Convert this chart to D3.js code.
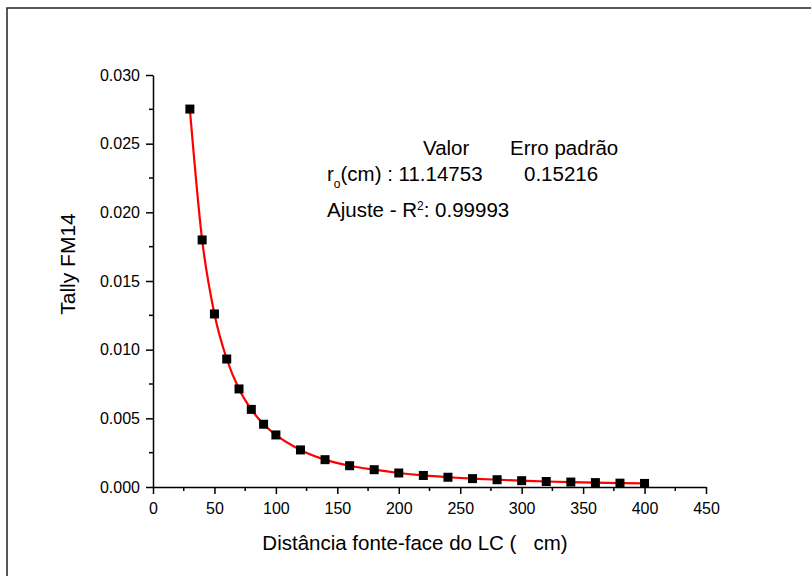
<!DOCTYPE html>
<html>
<head>
<meta charset="utf-8">
<script src="https://cdn.jsdelivr.net/npm/d3@7"></script>
<style>
  html, body { margin: 0; padding: 0; background: #fff; }
  svg { display: block; font-family: "Liberation Sans", Arial, sans-serif; }
</style>
</head>
<body>
<svg id="chart" width="811" height="576"></svg>
<script>
// Distance from source to detector face (cm)
const distances = [30, 40, 50, 60, 70, 80, 90, 100, 120, 140, 160, 180, 200,
                   220, 240, 260, 280, 300, 320, 340, 360, 380, 400];
// Tally FM14 values
const tally = [0.02752, 0.01799, 0.0126, 0.00932, 0.00714, 0.00565, 0.00457, 0.00379,
               0.00270, 0.00199, 0.00155, 0.00126, 0.00102, 0.00084, 0.00071,
               0.00061, 0.00053, 0.00046, 0.00040, 0.00036, 0.00032, 0.00028, 0.00026];
const xTicks = [0, 50, 100, 150, 200, 250, 300, 350, 400, 450];
const yTicks = [0, 0.005, 0.010, 0.015, 0.020, 0.025, 0.030];
const fitValue = "11.14753";
const fitError = "0.15216";
const rSquared = "0.99993";

const svg = d3.select("#chart");

// outer frame (top and left edges)
svg.append("path")
  .attr("d", "M7,576 L7,8 L811,8")
  .attr("fill", "none").attr("stroke", "#222").attr("stroke-width", 1.5);

const x = d3.scaleLinear().domain([0, 450]).range([153, 706]);
const y = d3.scaleLinear().domain([0, 0.030]).range([487, 75]);

// x axis: labelled major ticks + minor ticks in between
const xAxis = svg.append("g").attr("transform", "translate(0,487)");
xAxis.call(d3.axisBottom(x).tickValues(xTicks).tickSize(7).tickSizeOuter(0)
  .tickFormat(d3.format("d")));
xAxis.append("g").selectAll("line")
  .data(d3.range(25, 450, 50)).join("line")
  .attr("x1", d => x(d)).attr("x2", d => x(d))
  .attr("y1", 0).attr("y2", 4).attr("stroke", "#000").attr("stroke-width", 1.5);

const yAxis = svg.append("g").attr("transform", "translate(153,0)");
yAxis.call(d3.axisLeft(y).tickValues(yTicks).tickSize(7).tickSizeOuter(0)
  .tickFormat(d3.format(".3f")));
yAxis.append("g").selectAll("line")
  .data(d3.range(0.0025, 0.030, 0.005)).join("line")
  .attr("y1", d => y(d)).attr("y2", d => y(d))
  .attr("x1", 0).attr("x2", -4).attr("stroke", "#000").attr("stroke-width", 1.5);

[xAxis, yAxis].forEach(g => {
  g.select(".domain").attr("stroke", "#000").attr("stroke-width", 1.5);
  g.selectAll(".tick line").attr("stroke", "#000").attr("stroke-width", 1.5);
  g.selectAll(".tick text").attr("fill", "#000")
    .style("font-family", "Liberation Sans, Arial, sans-serif").style("font-size", "16px");
});
xAxis.selectAll(".tick text").attr("dy", null).attr("y", 27);
yAxis.selectAll(".tick text").attr("x", -13);

// axis titles
svg.append("text")
  .attr("x", 415).attr("y", 550).attr("text-anchor", "middle")
  .style("font-size", "20.5px").style("white-space", "pre").attr("fill", "#000")
  .text("Distância fonte-face do LC (   cm)");
svg.append("text")
  .attr("transform", "translate(75,264) rotate(-90)")
  .attr("text-anchor", "middle").style("font-size", "21px").attr("fill", "#000")
  .text("Tally FM14");

const pts = distances.map((d, i) => [d, tally[i]]);

// fitted curve
svg.append("path")
  .datum(pts)
  .attr("fill", "none").attr("stroke", "#ff0000").attr("stroke-width", 2.2)
  .attr("d", d3.line().x(d => x(d[0])).y(d => y(d[1])).curve(d3.curveMonotoneX));

// data markers
svg.append("g").selectAll("rect")
  .data(pts).join("rect")
  .attr("x", d => x(d[0]) - 4.5).attr("y", d => y(d[1]) - 4.5)
  .attr("width", 9).attr("height", 9).attr("fill", "#000");

// fit summary
const ann = svg.append("g").style("font-size", "20.5px").attr("fill", "#000");
ann.append("text").attr("x", 423).attr("y", 155).text("Valor");
ann.append("text").attr("x", 510).attr("y", 155).text("Erro padrão");
const r0 = ann.append("text").attr("x", 327).attr("y", 181);
r0.append("tspan").text("r");
r0.append("tspan").attr("dy", 7).style("font-size", "12px").text("o");
r0.append("tspan").attr("dy", -7).text("(cm) : " + fitValue);
ann.append("text").attr("x", 524).attr("y", 181).text(fitError);
const aj = ann.append("text").attr("x", 327).attr("y", 217);
aj.append("tspan").text("Ajuste - R");
aj.append("tspan").attr("dy", -7).style("font-size", "12px").text("2");
aj.append("tspan").attr("dy", 7).text(": " + rSquared);
</script>
</body>
</html>
